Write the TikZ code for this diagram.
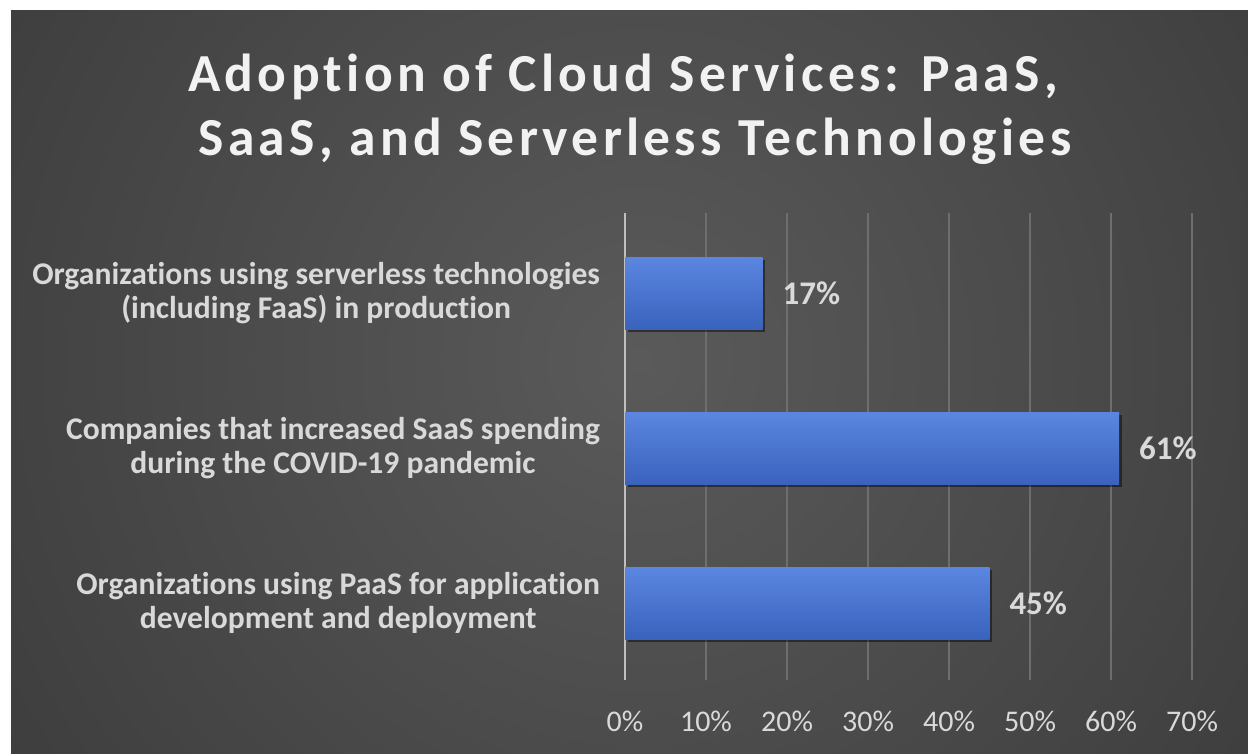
\documentclass[tikz,border=0pt]{standalone}
\usepackage{fontspec}
\setmainfont{Carlito}[Ligatures=NoCommon]
\newfontfamily\titlefont{Carlito}[Ligatures=NoCommon, LetterSpace=8]
\usetikzlibrary{shadows}
\definecolor{bginner}{HTML}{5A5A5A}
\definecolor{bgmid}{HTML}{2B2B2B}
\definecolor{bgouter}{HTML}{222222}
\definecolor{gridc}{HTML}{6E6E6E}
\definecolor{axisc}{HTML}{BFBFBF}
\definecolor{bartop}{HTML}{5B87E0}
\definecolor{barbot}{HTML}{3A62BE}
\definecolor{txt}{HTML}{D9D9D9}
\definecolor{ttl}{HTML}{F2F2F2}
\pgfdeclareradialshading{bgshade}{\pgfpoint{0bp}{0bp}}{color(0bp)=(bginner); color(48bp)=(bgmid); color(72bp)=(bgouter)}
\tikzset{
  gridline/.style={draw=gridc, line width=1.5pt},
  axisline/.style={draw=axisc, line width=2pt},
  bar/.style={rectangle, inner sep=0pt, minimum height=72pt, top color=bartop, bottom color=barbot, anchor=west,
    drop shadow={opacity=.45, shadow xshift=2.5pt, shadow yshift=-2.5pt, fill=black}},
  cat/.style={align=center, anchor=east, text=txt, font=\bfseries\fontsize{31.6}{34}\selectfont},
  val/.style={anchor=west, text=txt, font=\bfseries\fontsize{33}{36}\selectfont},
  tick/.style={text=txt, font=\fontsize{30}{36}\selectfont},
  ttlstyle/.style={anchor=base, text=ttl, font=\titlefont\bfseries\fontsize{53.5}{64}\selectfont}
}
\begin{document}
\begin{tikzpicture}[x=1pt, y=-1pt, every node/.append style={inner sep=0pt, outer sep=0pt}]
\useasboundingbox (0,0) rectangle (1248,753);
\fill[white] (0,0) rectangle (1248,753);
\begin{scope}
\clip (11,10) rectangle (1248,753);
\shade[shading=bgshade] (-10,-290) rectangle (1290,1010);
\end{scope}
% gridlines
\foreach \i in {1,...,7} {
  \draw[gridline] (625+81*\i,213) -- (625+81*\i,680);
}
\draw[axisline] (625,213) -- (625,680);
% title
\node[ttlstyle] (title1) at (623,91) {Adoption of Cloud Services: PaaS,};
\node[ttlstyle] (title2) at (635,155) {SaaS, and Serverless Technologies};
% bars
\node[bar, minimum width=137.7pt] (b1) at (625,293) {};
\node[bar, minimum width=494.1pt] (b2) at (625,448) {};
\node[bar, minimum width=364.5pt] (b3) at (625,603) {};
% value labels
\node[val] (v1) at ([xshift=20pt]b1.east) {17\%};
\node[val] (v2) at ([xshift=20pt]b2.east) {61\%};
\node[val] (v3) at ([xshift=20pt]b3.east) {45\%};
% category labels
\node[cat] (c1) at (600,293) {Organizations using serverless technologies\\(including FaaS) in production};
\node[cat] (c2) at (600,448) {Companies that increased SaaS spending\\during the COVID-19 pandemic};
\node[cat] (c3) at (600,603) {Organizations using PaaS for application\\development and deployment};
% axis ticks
\foreach \i in {0,...,7} {
  \pgfmathtruncatemacro{\pc}{10*\i}
  \node[tick] (t\i) at (625+81*\i,721) {\pc\%};
}
\end{tikzpicture}
\end{document}
